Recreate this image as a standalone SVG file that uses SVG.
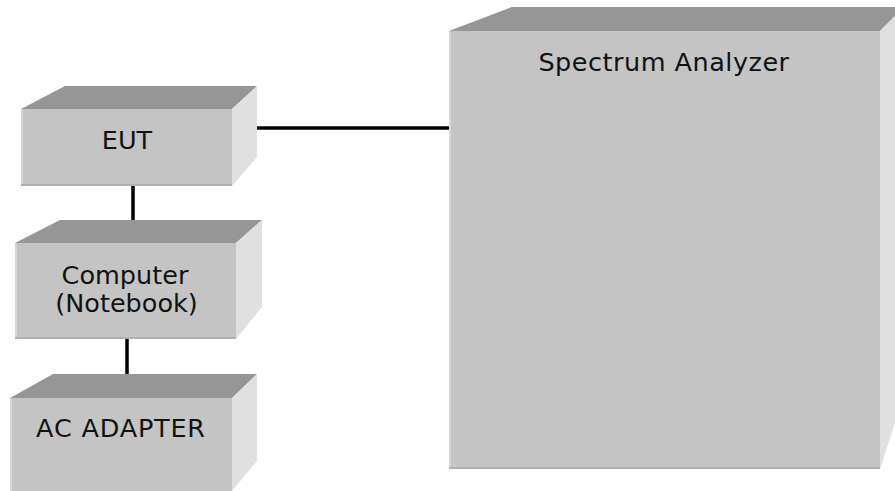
<svg xmlns="http://www.w3.org/2000/svg" width="895" height="491" viewBox="0 0 895 491">
<style>
.top{fill:#969696}
.front{fill:#c4c4c4}
.side{fill:#e0e0e0}
.hl{stroke:#d6d6d6;stroke-width:2;fill:none}
.sh{stroke:#b0b0b0;stroke-width:2;fill:none}
.lbl{font-family:"DejaVu Sans","Verdana",sans-serif;font-size:25.5px;fill:#111;text-anchor:middle}
.wire{stroke:#000;stroke-width:3.5;fill:none}
</style>
<rect width="895" height="491" fill="#fff"/>
<g id="connectors">
<line class="wire" x1="257" y1="128" x2="449" y2="128"/>
<line class="wire" x1="133" y1="186" x2="133" y2="220"/>
<line class="wire" x1="127" y1="339" x2="127" y2="374"/>
</g>
<g id="eut">
<polygon class="top" points="21,109 65,86 257,86 232,109"/>
<polygon class="side" points="232,109 257,86 257,157 232,186"/>
<rect class="front" x="21" y="109" width="211" height="77"/>
<line class="hl" x1="22" y1="110" x2="22" y2="185"/>
<line class="sh" x1="21" y1="185" x2="232" y2="185"/>
<text class="lbl" x="127" y="149">EUT</text>
</g>
<g id="computer">
<polygon class="top" points="15,243 60,220 262,220 236,243"/>
<polygon class="side" points="236,243 262,220 262,307 236,339"/>
<rect class="front" x="15" y="243" width="221" height="96"/>
<line class="hl" x1="16" y1="244" x2="16" y2="338"/>
<line class="sh" x1="15" y1="338" x2="236" y2="338"/>
<text class="lbl" x="125" y="284">Computer</text>
<text class="lbl" x="126.5" y="312">(Notebook)</text>
</g>
<g id="ac-adapter">
<polygon class="top" points="10,398 53,374 257,374 232,398"/>
<polygon class="side" points="232,398 257,374 257,461 232,491"/>
<rect class="front" x="10" y="398" width="222" height="93"/>
<line class="hl" x1="11" y1="399" x2="11" y2="491"/>
<text class="lbl" x="121" y="437" letter-spacing="0.8">AC ADAPTER</text>
</g>
<g id="spectrum-analyzer">
<polygon class="top" points="449,31 512,7 904,7 880,31"/>
<polygon class="side" points="880,31 904,7 904,395 880,469"/>
<rect class="front" x="449" y="31" width="431" height="438"/>
<line class="hl" x1="450" y1="32" x2="450" y2="468"/>
<line class="sh" x1="449" y1="468" x2="880" y2="468"/>
<text class="lbl" x="664" y="71" letter-spacing="0.5">Spectrum Analyzer</text>
</g>
</svg>
